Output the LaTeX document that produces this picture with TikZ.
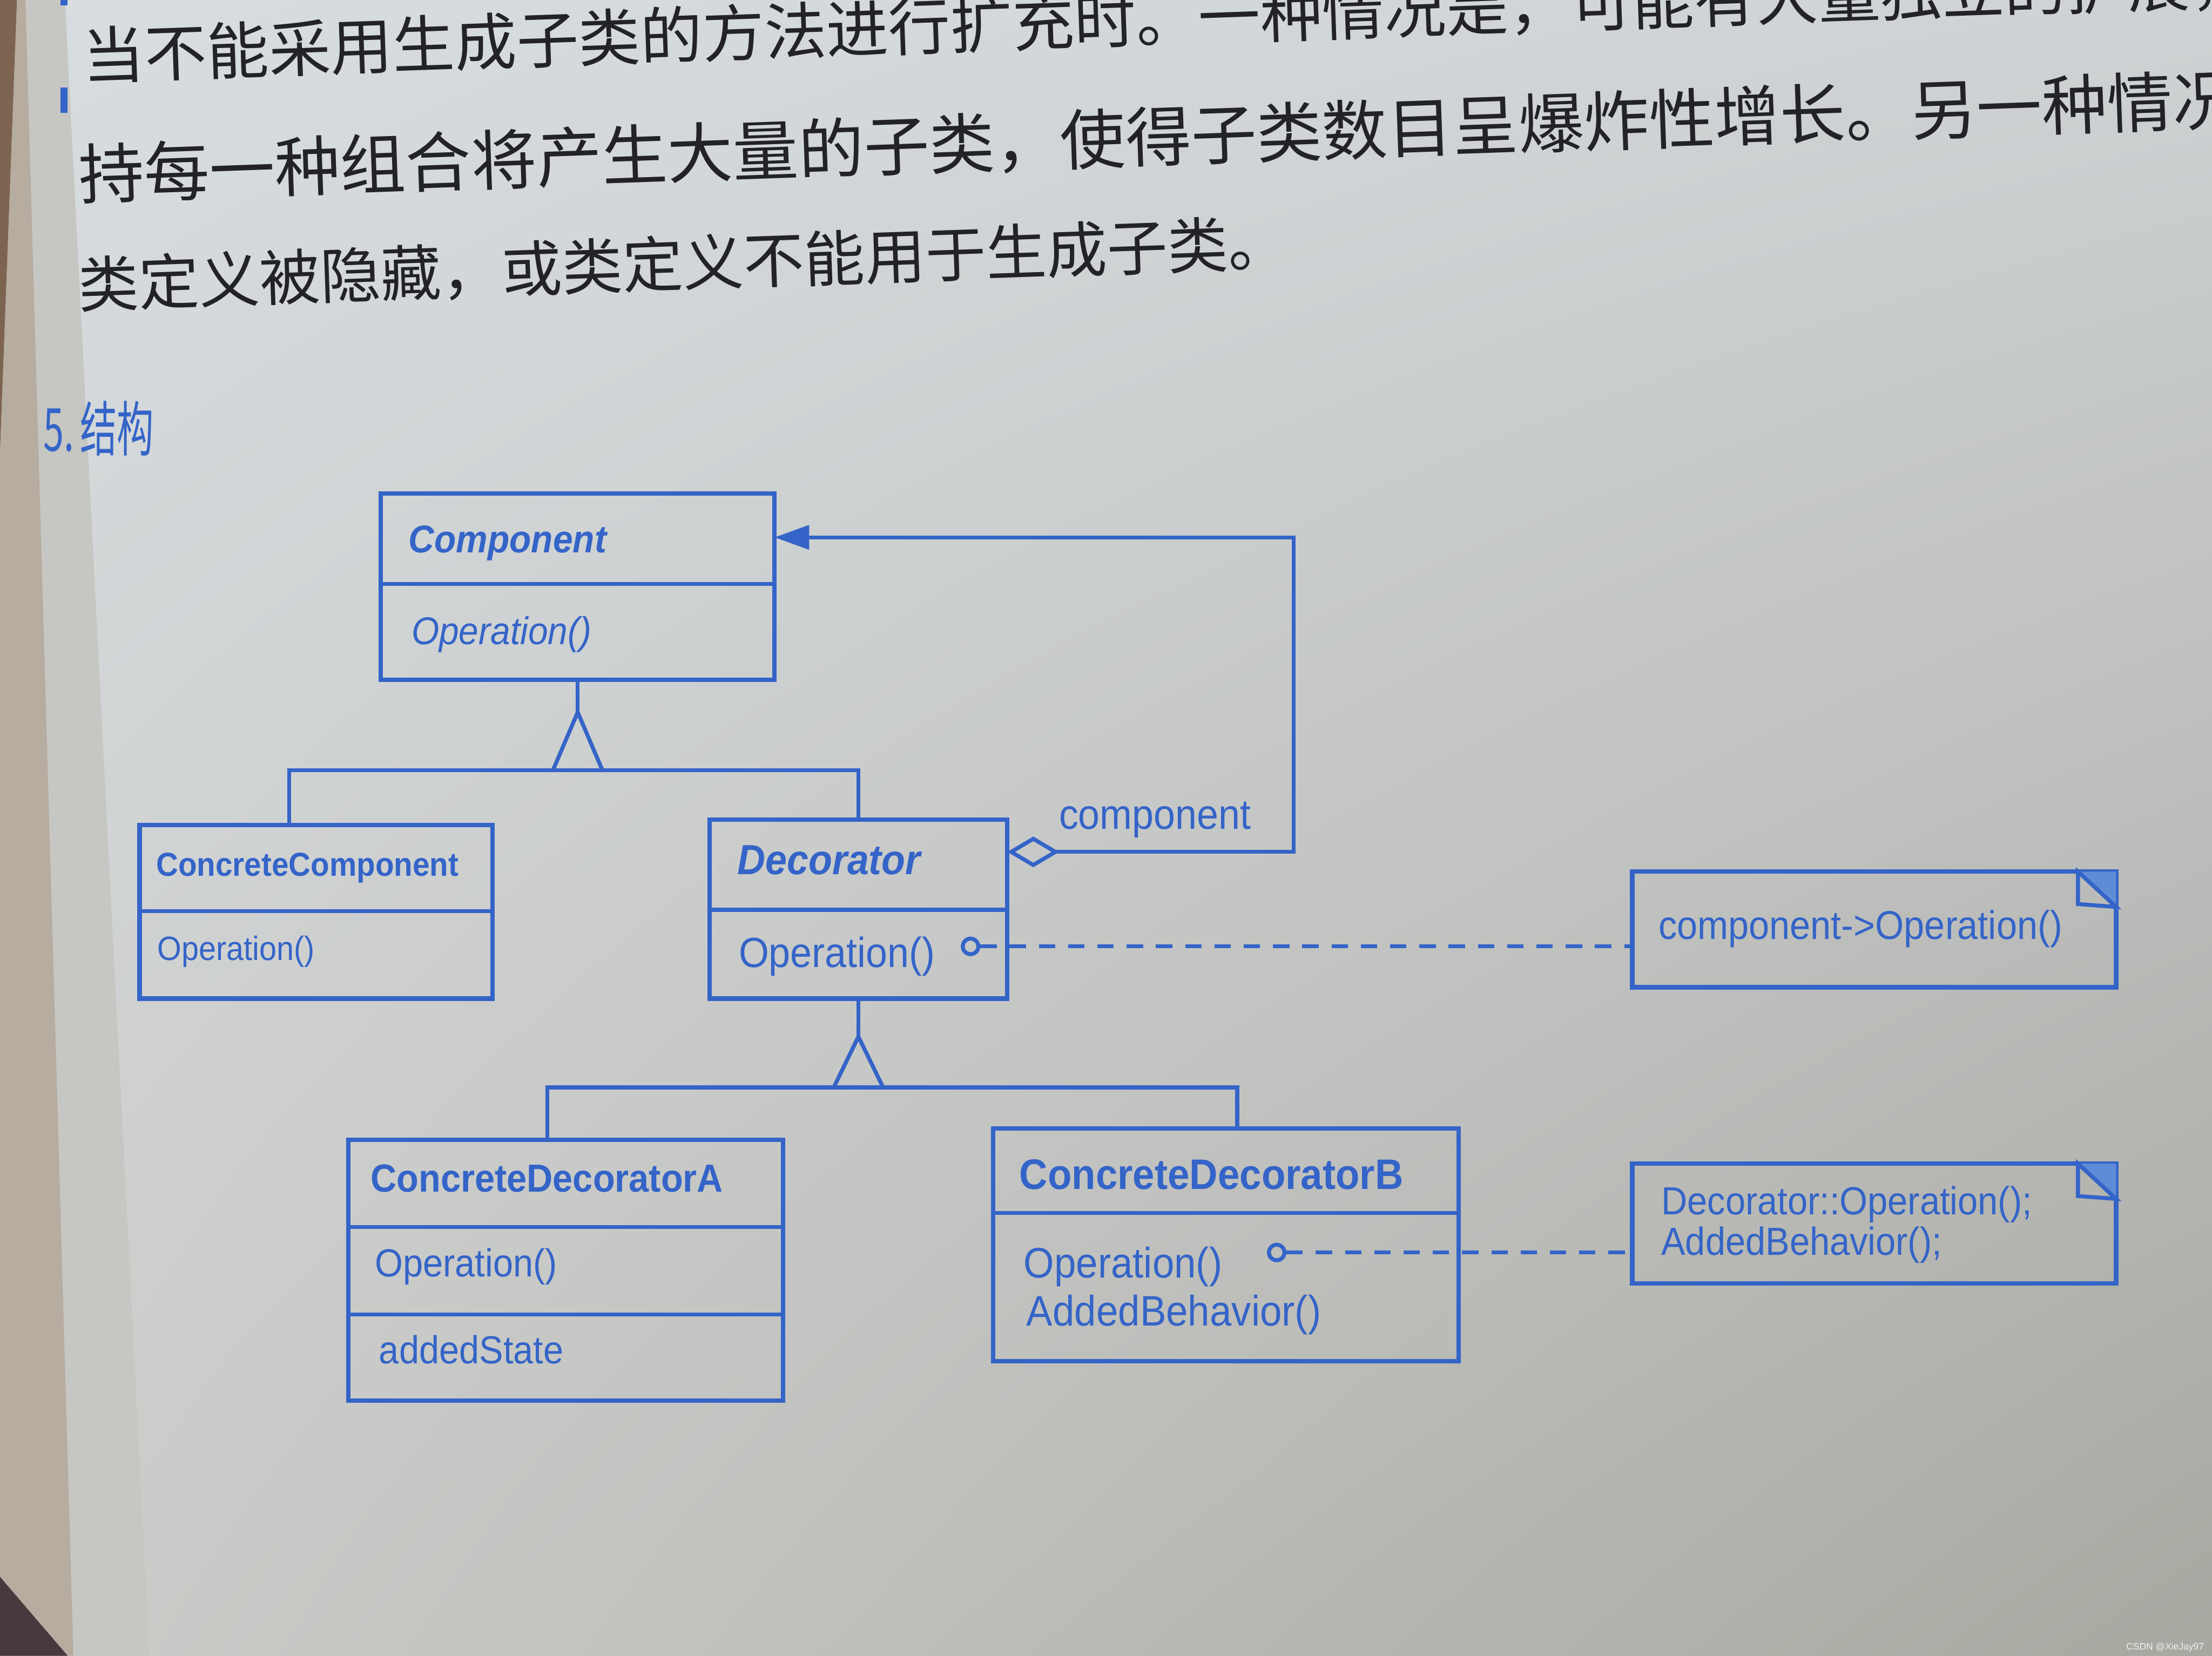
\documentclass[tikz,border=0pt]{standalone}
\usepackage{fontspec}
\setmainfont{Liberation Sans}
\newfontfamily\umlfont[FakeStretch=0.92]{Liberation Sans}
\newfontfamily\cjk{Noto Sans CJK SC}
\usetikzlibrary{arrows.meta,fit,calc,shadings}
\definecolor{umlblue}{RGB}{52,100,200}
\definecolor{notefill}{RGB}{95,140,215}
\definecolor{inkgray}{RGB}{34,34,40}
\definecolor{pUL}{RGB}{216,221,225}
\definecolor{pUR}{RGB}{206,210,212}
\definecolor{pLL}{RGB}{204,205,202}
\definecolor{pLR}{RGB}{168,167,160}
\definecolor{margA}{RGB}{182,172,160}
\definecolor{margB}{RGB}{198,198,194}
\definecolor{margC}{RGB}{125,100,80}
\definecolor{darkcorner}{RGB}{70,58,62}
\newcommand\umlsz[1]{\fontsize{#1}{#1}\selectfont}
\begin{document}
\begin{tikzpicture}[x=0.01cm,y=-0.01cm,
  cls/.style={draw=umlblue, line width=0.9pt, inner sep=0pt, outer sep=0pt},
  lnk/.style={draw=umlblue, line width=0.8pt},
  dsh/.style={draw=umlblue, line width=0.8pt, dash pattern=on 3.3pt off 2.6pt},
  txt/.style={anchor=base west, inner sep=0pt, text=umlblue},
  cn/.style={anchor=west, inner sep=0pt, text=inkgray, rotate=2}]
\useasboundingbox (0,0) rectangle (1568,1174);
% paper
\shade[upper left=pUL, upper right=pUR, lower left=pLL, lower right=pLR] (0,0) rectangle (1568,1174);
\fill[margB] (0,0) -- (46,0) -- (106,1174) -- (0,1174) -- cycle;
\fill[margA] (0,0) -- (18,0) -- (52,1174) -- (0,1174) -- cycle;
\fill[margC] (0,0) -- (12,0) -- (0,320) -- cycle;
\fill[darkcorner] (0,1118) -- (48,1174) -- (0,1174) -- cycle;

% body text
\fill[umlblue] (43,62) rectangle (48,80);
\fill[umlblue] (43,0) rectangle (48,4);
\node[cn, font=\cjk\umlsz{12.5pt}] (l1) at (58,40) {当不能采用生成子类的方法进行扩充时。一种情况是，可能有大量独立的扩展，为支};
\node[cn, font=\cjk\umlsz{13.2pt}] (l2) at (55,124) {持每一种组合将产生大量的子类，使得子类数目呈爆炸性增长。另一种情况};
\node[cn, font=\cjk\umlsz{12.2pt}] (l3) at (55,202) {类定义被隐藏，或类定义不能用于生成子类。};
\node[anchor=west, inner sep=0pt, text=umlblue, font=\cjk\umlsz{12pt}] (h5) at (30,304) {\scalebox{0.62}[1]{5.\,结构}};

% classes
\node[cls, fit={(270,350) (549,482)}] (comp) {};
\draw[lnk] (270,414) -- (549,414);
\node[txt, font=\umlfont\bfseries\itshape\umlsz{7.8pt}] (compT) at (289,392) {Component};
\node[txt, font=\umlfont\itshape\umlsz{7.8pt}] (compO) at (291,457) {Operation()};

\node[cls, fit={(99,585) (349,708)}] (cc) {};
\draw[lnk] (99,646) -- (349,646);
\node[txt, font=\umlfont\bfseries\umlsz{6.7pt}] (ccT) at (110,621) {ConcreteComponent};
\node[txt, font=\umlfont\umlsz{6.8pt}] (ccO) at (111,681) {Operation()};

\node[cls, fit={(503,581) (714,708)}] (dec) {};
\draw[lnk] (503,645) -- (714,645);
\node[txt, font=\umlfont\bfseries\itshape\umlsz{8.5pt}] (decT) at (522,620) {Decorator};
\node[txt, font=\umlfont\umlsz{8.5pt}] (decO) at (523,686) {Operation()};

\node[cls, fit={(247,808) (555,993)}] (cda) {};
\draw[lnk] (247,870) -- (555,870);
\draw[lnk] (247,932) -- (555,932);
\node[txt, font=\umlfont\bfseries\umlsz{7.9pt}] (cdaT) at (262,845) {ConcreteDecoratorA};
\node[txt, font=\umlfont\umlsz{7.9pt}] (cdaO) at (265,905) {Operation()};
\node[txt, font=\umlfont\umlsz{7.9pt}] (cdaS) at (268,967) {addedState};

\node[cls, fit={(704,800) (1034,965)}] (cdb) {};
\draw[lnk] (704,860) -- (1034,860);
\node[txt, font=\umlfont\bfseries\umlsz{8.6pt}] (cdbT) at (722,843) {ConcreteDecoratorB};
\node[txt, font=\umlfont\umlsz{8.6pt}] (cdbO) at (725,906) {Operation()};
\node[txt, font=\umlfont\umlsz{8.6pt}] (cdbA) at (727,940) {AddedBehavior()};

% notes
\node[cls, fit={(1157,618) (1500,700)}] (note1) {};
\fill[notefill] ($(note1.north east)+(-27,0)$) -- (note1.north east) -- ($(note1.north east)+(0,25)$) -- cycle;
\draw[lnk] ($(note1.north east)+(-27,0)$) -- ++(0,23) -- ($(note1.north east)+(0,25)$) -- cycle;
\node[txt, font=\umlfont\umlsz{8.1pt}] (n1t) at (1175,666) {component->Operation()};

\node[cls, fit={(1157,825) (1500,910)}] (note2) {};
\fill[notefill] ($(note2.north east)+(-27,0)$) -- (note2.north east) -- ($(note2.north east)+(0,25)$) -- cycle;
\draw[lnk] ($(note2.north east)+(-27,0)$) -- ++(0,23) -- ($(note2.north east)+(0,25)$) -- cycle;
\node[txt, font=\umlfont\umlsz{7.9pt}] (n2a) at (1177,861) {Decorator::Operation();};
\node[txt, font=\umlfont\umlsz{7.9pt}] (n2b) at (1177,890) {AddedBehavior();};

% inheritance Component
\coordinate (t1) at (409.5,505);
\coordinate (b1L) at (205,546);
\coordinate (b1R) at (608.5,546);
\draw[lnk] (comp.south) -- (t1);
\draw[lnk] (392,546) -- (t1) -- (427,546);
\draw[lnk] (b1L |- cc.north) -- (b1L) -- (b1R) -- (dec.north);

% inheritance Decorator
\coordinate (t2) at (608.5,735);
\coordinate (b2L) at (388,771);
\coordinate (b2R) at (877,771);
\draw[lnk] (dec.south) -- (t2);
\draw[lnk] (591,771) -- (t2) -- (626,771);
\draw[lnk] (b2L |- cda.north) -- (b2L) -- (b2R) -- (b2R |- cdb.north);

% aggregation
\coordinate (agT) at (917,381);
\coordinate (agB) at (917,604);
\draw[lnk, {Triangle[length=7pt,width=4.8pt]}-{Diamond[open,length=10.5pt,width=6.2pt]}]
  (comp.east |- agT) -- (agT) -- (agB) -- (dec.east |- agB);
\node[txt, font=\umlfont\umlsz{8.5pt}] (aglab) at (750,588) {component};

% implementation links
\node[circle, draw=umlblue, line width=0.8pt, minimum size=11*0.01cm, inner sep=0pt] (c1) at (688,671) {};
\draw[dsh] (c1.east) -- (note1.west |- c1.east);
\node[circle, draw=umlblue, line width=0.8pt, minimum size=11*0.01cm, inner sep=0pt] (c2) at (905,888) {};
\draw[dsh] (c2.east) -- (note2.west |- c2.east);

% watermark
\node[anchor=east, inner sep=0pt, text=white!88!gray, font=\umlsz{1.9pt}] (wm) at (1563,1168) {CSDN @XieJay97};
\end{tikzpicture}
\end{document}
